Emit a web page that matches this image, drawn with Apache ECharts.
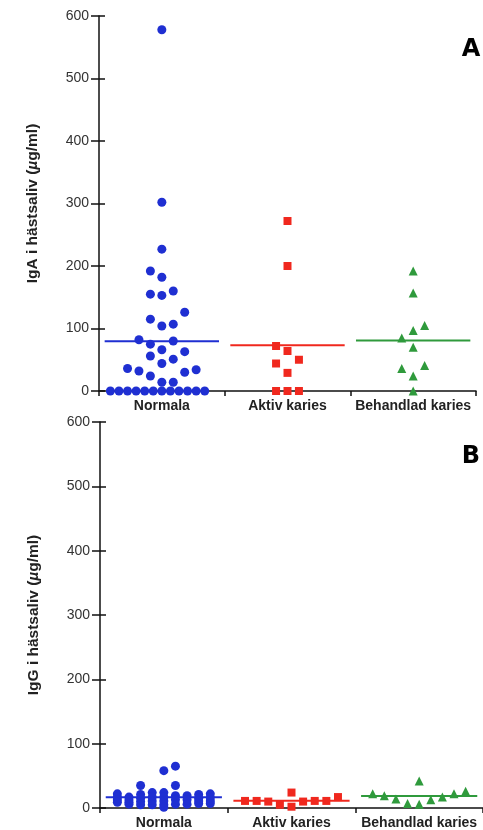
<!DOCTYPE html>
<html><head><meta charset="utf-8">
<script src="https://cdn.jsdelivr.net/npm/echarts@6/dist/echarts.min.js"></script>
<style>html,body{margin:0;padding:0;background:#fff}#c{width:483px;height:830px}</style>
</head><body><div id="c"></div>
<script>
// ---- data ----
const categories = ['Normala', 'Aktiv karies', 'Behandlad karies'];
const yTickValues = [0, 100, 200, 300, 400, 500, 600];

// Panel A: IgA (µg/ml). "slot" = beeswarm column of each point
const igaNormala     = [578, 302, 227, 192, 182, 160, 155, 153, 126, 115, 107, 104, 82, 80, 75, 66, 63, 56, 51, 44, 36, 32, 34, 30, 24, 14, 14, 0, 0, 0, 0, 0, 0, 0, 0, 0, 0, 0, 0];
const igaNormalaSlot = [0, 0, 0, -1, 0, 1, -1, 0, 2, -1, 1, 0, -2, 1, -1, 0, 2, -1, 1, 0, -3, -2, 3, 2, -1, 0, 1, -4.5, -3.75, -3, -2.25, -1.5, -0.75, 0, 0.75, 1.5, 2.25, 3, 3.75];
const igaAktiv       = [272, 200, 72, 64, 50, 44, 29, 0, 0, 0];
const igaAktivSlot   = [0, 0, -1, 0, 1, -1, 0, -1, 0, 1];
const igaBehandlad     = [192, 157, 105, 97, 85, 70, 41, 36, 24, 0];
const igaBehandladSlot = [0, 0, 1, 0, -1, 0, 1, -1, 0, 0];

// Panel B: IgG (µg/ml)
const iggNormala     = [22, 17, 13, 9,  17, 13, 9, 6,  35, 21, 15, 10, 5,  24, 17, 11, 5,  58, 24, 17, 11, 5, 1,  65, 35, 19, 13, 6,  19, 13, 6,  21, 15, 11, 7,  22, 16, 11, 7];
const iggNormalaSlot = [-4, -4, -4, -4, -3, -3, -3, -3, -2, -2, -2, -2, -2, -1, -1, -1, -1, 0, 0, 0, 0, 0, 0, 1, 1, 1, 1, 1, 2, 2, 2, 3, 3, 3, 3, 4, 4, 4, 4];
const iggAktiv       = [11, 11, 10, 5, 24, 2, 10, 11, 11, 17];
const iggAktivSlot   = [-4, -3, -2, -1, 0, 0, 1, 2, 3, 4];
const iggBehandlad     = [22, 19, 14, 7, 42, 6, 13, 17, 22, 26];
const iggBehandladSlot = [-4, -3, -2, -1, 0, 0, 1, 2, 3, 4];

// ---- styling ----
const COLORS = ['#1f2fd2', '#f0281e', '#2f9a3c'];
const SYMBOLS = ['circle', 'rect', 'triangle'];
const SIZES = [9, 8, 9];
const STEP = 0.091;      // slot width in category units
const HALF = 0.455;      // half width of mean line in category units
const FONT = 'Liberation Sans, Arial, sans-serif';

const panels = [
  { groups: [[igaNormala, igaNormalaSlot], [igaAktiv, igaAktivSlot], [igaBehandlad, igaBehandladSlot]],
    name: '{n|IgA i hästsaliv (}{i|µ}{n|g/ml)}' },
  { groups: [[iggNormala, iggNormalaSlot], [iggAktiv, iggAktivSlot], [iggBehandlad, iggBehandladSlot]],
    name: '{n|IgG i hästsaliv (}{i|µ}{n|g/ml)}' }
];

const grids = [
  { left: 99, top: 16, width: 377, height: 375 },
  { left: 100, top: 422, width: 388, height: 386 }
];

const xAxes = [], yAxes = [], series = [];
panels.forEach((p, pi) => {
  xAxes.push({
    gridIndex: pi, type: 'category', data: categories, position: 'bottom',
    axisLine: { lineStyle: { color: '#111', width: 1.5 } },
    axisTick: { show: true, length: 5, lineStyle: { color: '#111', width: 1.5 } },
    axisLabel: { color: '#222', fontFamily: FONT, fontSize: 14, fontWeight: 'bold', margin: 8, interval: 0 },
    splitLine: { show: false }
  });
  xAxes.push({ gridIndex: pi, type: 'value', min: 0, max: 3, show: false });
  yAxes.push({
    gridIndex: pi, type: 'value', min: 0, max: 600, interval: 100, position: 'left',
    axisLine: { show: true, lineStyle: { color: '#111', width: 1.5 } },
    axisTick: { show: true, length: 8, lineStyle: { color: '#111', width: 1.5 } },
    axisLabel: { color: '#333', fontFamily: FONT, fontSize: 14, margin: 10,
      formatter: v => yTickValues.includes(v) ? String(v) : '' },
    splitLine: { show: false },
    name: p.name, nameLocation: 'middle', nameGap: 58,
    nameTextStyle: { rich: {
      n: { fontFamily: FONT, fontSize: 15.5, fontWeight: 'bold', color: '#222' },
      i: { fontFamily: FONT, fontSize: 15.5, fontWeight: 'bold', fontStyle: 'italic', color: '#222' }
    } }
  });
  yAxes.push({
    gridIndex: pi, type: 'value', min: 0, max: 600, interval: 100, position: 'left', offset: 0,
    axisLine: { show: false },
    axisTick: { show: true, inside: true, length: 6, lineStyle: { color: '#111', width: 1.5 } },
    axisLabel: { show: false }, splitLine: { show: false }
  });
  p.groups.forEach(([vals, slots], g) => {
    const mean = vals.reduce((a, b) => a + b, 0) / vals.length;
    series.push({
      type: 'line', xAxisIndex: pi * 2 + 1, yAxisIndex: pi * 2, z: 1,
      data: [[g + 0.5 - HALF, mean], [g + 0.5 + HALF, mean]],
      symbol: 'none', lineStyle: { color: COLORS[g], width: 2 }, silent: true, clip: false
    });
    series.push({
      type: 'scatter', xAxisIndex: pi * 2 + 1, yAxisIndex: pi * 2, z: 2,
      symbol: SYMBOLS[g], symbolSize: SIZES[g], clip: false,
      itemStyle: { color: COLORS[g], opacity: 1 },
      data: vals.map((v, i) => [g + 0.5 + slots[i] * STEP, v])
    });
  });
});

const chart = echarts.init(document.getElementById('c'), null, { renderer: 'canvas' });
chart.setOption({
  animation: false,
  backgroundColor: '#fff',
  grid: grids,
  xAxis: xAxes,
  yAxis: yAxes,
  series: series,
  graphic: [
    { type: 'text', x: 471, y: 50, style: { text: 'A', font: 'bold 24px "DejaVu Sans"', fill: '#000', align: 'center', verticalAlign: 'middle' } },
    { type: 'text', x: 471, y: 457, style: { text: 'B', font: 'bold 24px "DejaVu Sans"', fill: '#000', align: 'center', verticalAlign: 'middle' } }
  ]
});
</script></body></html>
